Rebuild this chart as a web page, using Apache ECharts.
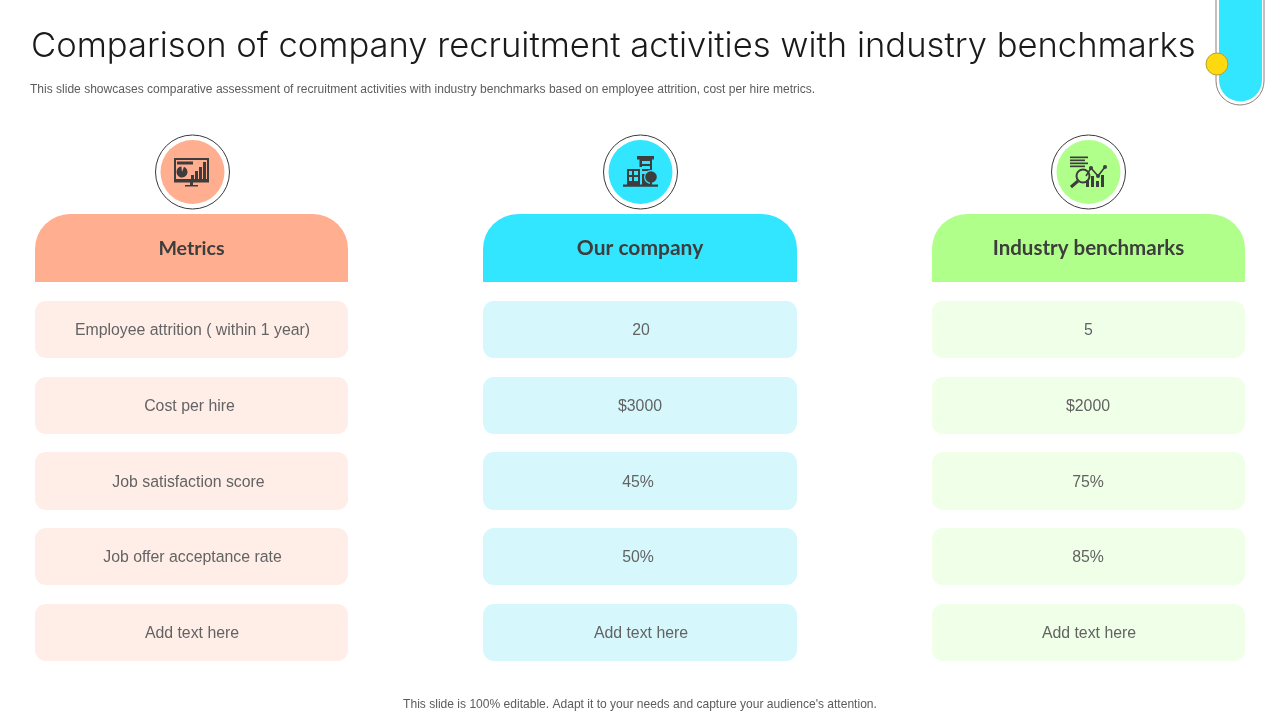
<!DOCTYPE html>
<html><head><meta charset="utf-8">
<style>html,body{margin:0;padding:0;background:#fff}#c{width:1280px;height:720px}</style>
<script src="https://cdn.jsdelivr.net/npm/echarts@6/dist/echarts.min.js"></script>
</head><body><div id="c"></div>
<script>
const titleText = "Comparison of company recruitment activities with industry benchmarks";
const subtitleText = "This slide showcases comparative assessment of recruitment activities with industry benchmarks based on employee attrition, cost per hire metrics.";
const footerText = "This slide is 100% editable. Adapt it to your needs and capture your audience's attention.";
const headers = ["Metrics", "Our company", "Industry benchmarks"];
const metrics = ["Employee attrition ( within 1 year)", "Cost per hire", "Job satisfaction score", "Job offer acceptance rate", "Add text here"];
const ourCompany = ["20", "$3000", "45%", "50%", "Add text here"];
const benchmarks = ["5", "$2000", "75%", "85%", "Add text here"];

const columns = [metrics, ourCompany, benchmarks];
const colX = [[35,348],[483,797],[932,1245]];
const rowY = [[301,358],[377,434],[452,510],[528,585],[604,661]];
const textX = [[192.5,189.5,188.5,192.5,192],[641,640,638,638,641],[1088.5,1088,1088,1088,1089]];
const headerSize = [19.6,21,20.5];
const strong = ['#FFAE90','#33E6FF','#B0FF8B'];
const pale = ['#FFEEE8','#D6F8FD','#EFFFE8'];
const ink = '#3D3D3D';
const els = [];
const S = (o)=>{els.push(o);};
const rect=(x,y,w,h,fill,r)=>S({type:'rect',shape:{x,y,width:w,height:h,r:r||0},style:{fill}});
const circ=(cx,cy,r,fill,stroke,lw)=>S({type:'circle',shape:{cx,cy,r},style:{fill:fill||'none',stroke:stroke||null,lineWidth:lw||0}});
const line=(pts,lw,c)=>S({type:'polyline',shape:{points:pts},style:{fill:'none',stroke:c||ink,lineWidth:lw}});
const text=(x,y,t,font,fill,align)=>S({type:'text',x,y,style:{text:t,font,fill,align:align||'center',verticalAlign:'middle'}});

text(31,46.5,titleText,'300 34.6px "Inter"','#1a1a1a','left');
text(30,89.5,subtitleText,'12.04px "Liberation Sans"','#5c5c5c','left');
text(640,704.5,footerText,'12.05px "Liberation Sans"','#5c5c5c');

// tube decoration
S({type:'path',shape:{pathData:'M1216 0V81A24 24 0 0 0 1264 81V0'},style:{fill:'#fff',stroke:'#8f7f7f',lineWidth:1}});
S({type:'path',shape:{pathData:'M1219 0V80A21.5 21.5 0 0 0 1262 80V0Z'},style:{fill:'#33E6FF'}});
circ(1217,64,11,'#FFD90F','#B5A030',1);

colX.forEach(([a,b],i)=>{
  const cx=[192.5,640.5,1088.5][i];
  circ(cx,172,37,'#fff','#3a3a3a',1);
  circ(cx,172,32,strong[i]);
  S({type:'path',shape:{pathData:`M${a} 282V249A35 35 0 0 1 ${a+35} 214H${b-35}A35 35 0 0 1 ${b} 249V282Z`},style:{fill:strong[i]}});
  text((a+b)/2,248.5,headers[i],`bold ${headerSize[i]}px "Lato"`,ink);
  rowY.forEach(([t,u],j)=>{
    rect(a,t,b-a,u-t,pale[i],11);
    text(textX[i][j],(t+u)/2+1.5,columns[i][j],'15.85px "Liberation Sans"','#636363');
  });
});

// icon 1: monitor
S({type:'path',shape:{pathData:'M174 158H209V182H174Z M176 160V179H207V160Z'},style:{fill:ink,fillRule:'evenodd'}});
rect(174,179,35,3.5,ink); rect(190,182,3,3,ink); rect(185,185,13,1.5,ink);
rect(177,161.5,16,3,ink);
S({type:'sector',shape:{cx:182,cy:172,r:5.5,r0:0,startAngle:-1.2,endAngle:4.6},style:{fill:ink}});
[[191,175],[195,171],[199,167],[203,162]].forEach(([x,y])=>rect(x,y,3,179-y,ink));

// icon 2: buildings
S({type:'path',shape:{pathData:'M637 156H654V159.5H652V185H642V167H639.5V159.5H637Z M642 161V164H650V161Z M642 166V169H650V166Z M642 171V174H650V171Z'},style:{fill:ink,fillRule:'evenodd'}});
S({type:'path',shape:{pathData:'M627 169H640V185H627Z M629 171V175H632V171Z M634 171V175H638V171Z M629 177V181H632V177Z M634 177V181H638V177Z'},style:{fill:ink,fillRule:'evenodd'}});
rect(623,184.5,35,2.2,ink);
circ(651,177,7,'#33E6FF');
circ(651,177,5.8,ink); rect(650,180,2,5,ink);

// icon 3: report and trend
[156.5,159.5,162.5,165.5].forEach((y,k)=>rect(1070,y,k%2?15:18,1.7,ink));
circ(1083,176,6.5,'none',ink,2);
line([[1078,181],[1071,187]],3);
[[1086,180],[1091,176],[1096,181],[1101,175]].forEach(([x,y])=>rect(x,y,3,187-y,ink));
line([[1086,176],[1091,168],[1098,176],[1105,167]],1.6);
[[1091,168],[1098,176],[1105,167]].forEach(([x,y])=>circ(x,y,2,ink));

const chart = echarts.init(document.getElementById('c'),null,{width:1280,height:720});
chart.setOption({animation:false,backgroundColor:'#fff',series:[{type:'custom',coordinateSystem:'none',silent:true,data:[0],clip:false,
  renderItem:()=>({type:'group',children:els})}]});
</script></body></html>
